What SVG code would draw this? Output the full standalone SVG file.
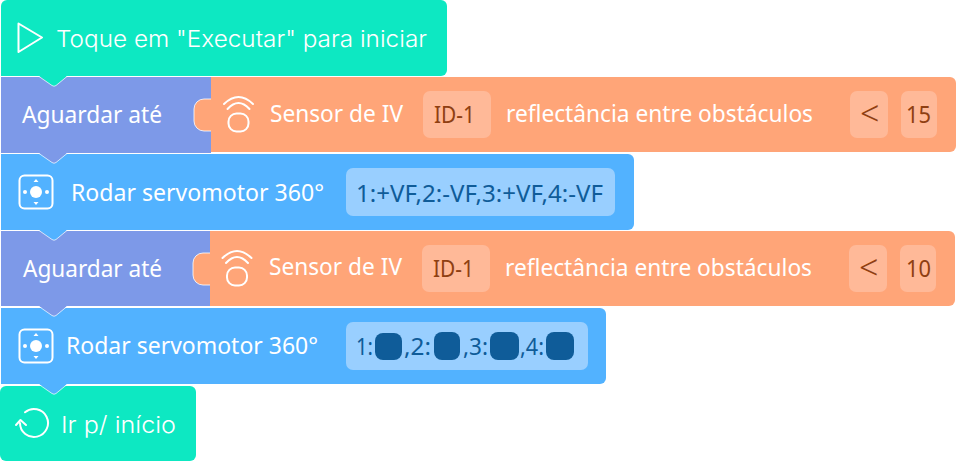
<svg xmlns="http://www.w3.org/2000/svg" width="956" height="462" viewBox="0 0 956 462">
<style>
text{font-family:"Noto Sans","Open Sans",sans-serif;font-size:23px;fill:#fff}
.lite{font-family:Inter,"Noto Sans",sans-serif;font-size:23px;font-weight:300}
.dark{fill:#8f3f12}
.blue{fill:#0f5c99}
.lt{font-size:34px;font-weight:300}
.slotO{fill:#ffb998}
.slotB{fill:#99cfff}
.ic{fill:none;stroke:#fff;stroke-width:2;stroke-linejoin:round;stroke-linecap:round}
.teal{fill:#0de8c2}
.pur{fill:#7d99e8}
.or{fill:#ffa578}
.bl{fill:#52b2ff}
.knob{stroke:#fff;stroke-width:1;stroke-opacity:.8}
.sq{fill:#0f5c99}
.edge{fill:none;stroke:#fff;stroke-width:1;opacity:.7}
</style>
<defs>
<g id="sensor"><path class="ic" d="M-14.500 -7Q0 -21 14.500 -7M-11 -2Q0 -14 11 -2"/><rect class="ic" x="-10" y="2.500" width="20" height="18" rx="8"/></g>
<g id="servo"><rect class="ic" x="-16.500" y="-16.500" width="33" height="33" rx="5"/><circle cx="0" cy="0" r="6" fill="#fff"/><circle cx="-11" cy="0" r="2" fill="#fff"/><circle cx="11" cy="0" r="2" fill="#fff"/><path d="M0 -13l2.500 3h-5zM0 13l2.500 -3h-5z" fill="#fff"/></g>
</defs>

<g id="connectors"></g>

<g id="node-6">
<path class="teal" d="M0 392a6 6 0 0 1 6 -6H190a6 6 0 0 1 6 6V455a6 6 0 0 1 -6 6H6a6 6 0 0 1 -6 -6Z"/>
<path class="ic" d="M25 412.300A14 14 0 1 1 20 423M16 425L20.500 420L26 425"/>
<text class="lite" x="61" y="433" textLength="115" lengthAdjust="spacingAndGlyphs">Ir p/ início</text>
</g>

<g id="node-5">
<path class="bl" d="M1 308H600a6 6 0 0 1 6 6V378a6 6 0 0 1 -6 6H1Z"/>
<use href="#servo" x="36" y="346"/>
<text x="66" y="354" textLength="252" lengthAdjust="spacingAndGlyphs">Rodar servomotor 360°</text>
<rect class="slotB" x="346" y="322" width="242" height="48" rx="7"/>
<text class="blue" x="356" y="355" textLength="17" lengthAdjust="spacingAndGlyphs">1:</text>
<rect class="sq" x="375" y="333" width="27" height="27" rx="8"/>
<text class="blue" x="404" y="355" textLength="27" lengthAdjust="spacingAndGlyphs">,2:</text>
<rect class="sq" x="434" y="332" width="26" height="28" rx="8"/>
<text class="blue" x="463" y="355" textLength="25" lengthAdjust="spacingAndGlyphs">,3:</text>
<rect class="sq" x="490" y="332" width="29" height="28" rx="8"/>
<text class="blue" x="520" y="355" textLength="24" lengthAdjust="spacingAndGlyphs">,4:</text>
<rect class="sq" x="546" y="332" width="28" height="28" rx="8"/>
<path class="bl" d="M39 384L52 393.500Q54 395 56 393.500L67 384Z"/>
<path class="edge" d="M39 384.500L52 393.500Q54 395 56 393.500L67 384.500"/>
</g>

<g id="node-4">
<rect class="pur" x="1" y="231" width="209" height="75"/>
<path class="or" d="M210 231H949a6 6 0 0 1 6 6V300a6 6 0 0 1 -6 6H210Z"/>
<path class="or knob" d="M210 253H203a10 10 0 0 0 -10 10V275a10 10 0 0 0 10 10H210"/>
<rect class="or" x="204" y="254" width="7" height="30"/>
<text x="23" y="277" textLength="139" lengthAdjust="spacingAndGlyphs">Aguardar até</text>
<use href="#sensor" x="237" y="265"/>
<text x="269" y="275" textLength="133" lengthAdjust="spacingAndGlyphs">Sensor de IV</text>
<rect class="slotO" x="422" y="245" width="68" height="47" rx="7"/>
<text class="dark" x="433" y="277" textLength="41" lengthAdjust="spacingAndGlyphs">ID-1</text>
<text x="505" y="276" textLength="307" lengthAdjust="spacingAndGlyphs">reflectância entre obstáculos</text>
<rect class="slotO" x="849" y="245" width="38" height="47" rx="7"/>
<text class="dark lt" x="859" y="280">&lt;</text>
<rect class="slotO" x="900" y="245" width="36" height="47" rx="7"/>
<text class="dark" x="906" y="277" textLength="25" lengthAdjust="spacingAndGlyphs">10</text>
<path class="pur" d="M39 306L52 315.500Q54 317 56 315.500L67 306Z"/>
<path class="edge" d="M39 306.500L52 315.500Q54 317 56 315.500L67 306.500"/>
</g>

<g id="node-3">
<path class="bl" d="M1 154H628a6 6 0 0 1 6 6V224a6 6 0 0 1 -6 6H1Z"/>
<use href="#servo" x="36" y="192"/>
<text x="71" y="201" textLength="253" lengthAdjust="spacingAndGlyphs">Rodar servomotor 360°</text>
<rect class="slotB" x="346" y="168" width="269" height="48" rx="7"/>
<text class="blue" x="356" y="202" textLength="247" lengthAdjust="spacingAndGlyphs">1:+VF,2:-VF,3:+VF,4:-VF</text>
<path class="bl" d="M39 230L52 239.500Q54 241 56 239.500L67 230Z"/>
<path class="edge" d="M39 230.500L52 239.500Q54 241 56 239.500L67 230.500"/>
</g>

<g id="node-2">
<rect class="pur" x="1" y="77" width="210" height="76"/>
<path class="or" d="M211 77H950a6 6 0 0 1 6 6V146a6 6 0 0 1 -6 6H211Z"/>
<path class="or knob" d="M211 99H204a10 10 0 0 0 -10 10V121a10 10 0 0 0 10 10H211"/>
<rect class="or" x="205" y="100" width="7" height="30"/>
<text x="22" y="123" textLength="140" lengthAdjust="spacingAndGlyphs">Aguardar até</text>
<use href="#sensor" x="238.500" y="111"/>
<text x="270" y="122" textLength="133" lengthAdjust="spacingAndGlyphs">Sensor de IV</text>
<rect class="slotO" x="423" y="91" width="68" height="47" rx="7"/>
<text class="dark" x="434" y="123" textLength="41" lengthAdjust="spacingAndGlyphs">ID-1</text>
<text x="506" y="122" textLength="307" lengthAdjust="spacingAndGlyphs">reflectância entre obstáculos</text>
<rect class="slotO" x="850" y="91" width="38" height="47" rx="7"/>
<text class="dark lt" x="860" y="126">&lt;</text>
<rect class="slotO" x="901" y="91" width="36" height="47" rx="7"/>
<text class="dark" x="906" y="123" textLength="25" lengthAdjust="spacingAndGlyphs">15</text>
<path class="pur" d="M39 153L52 162.500Q54 164 56 162.500L67 153Z"/>
<path class="edge" d="M39 153.500L52 162.500Q54 164 56 162.500L67 153.500"/>
</g>

<g id="node-1">
<path class="teal" d="M1 6a6 6 0 0 1 6 -6H441a6 6 0 0 1 6 6V70a6 6 0 0 1 -6 6H1Z"/>
<path class="ic" d="M18.500 23.500L42 37.500L18.500 52Z"/>
<text class="lite" x="56" y="47" textLength="371" lengthAdjust="spacingAndGlyphs">Toque em "Executar" para iniciar</text>
<path class="teal" d="M39 76L52 85.500Q54 87 56 85.500L67 76Z"/>
<path class="edge" d="M39 76.500L52 85.500Q54 87 56 85.500L67 76.500"/>
</g>
</svg>
